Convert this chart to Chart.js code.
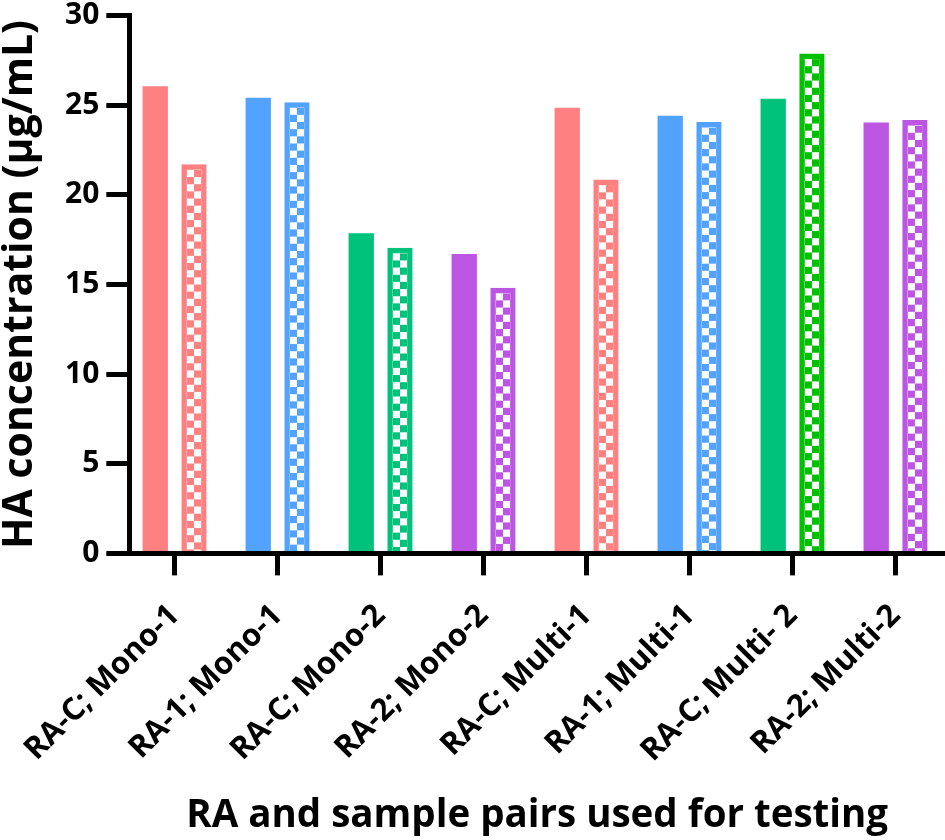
<!DOCTYPE html>
<html><head><meta charset="utf-8">
<script src="https://cdn.jsdelivr.net/npm/chart.js@4.4.0/dist/chart.umd.min.js"></script>
<style>html,body{margin:0;padding:0;background:#fff;} #wrap{width:945px;height:840px;position:relative;}</style>
</head><body><div id="wrap"><canvas id="c"></canvas></div>
<script>
const categories = ['RA-C; Mono-1','RA-1; Mono-1','RA-C; Mono-2','RA-2; Mono-2','RA-C; Multi-1','RA-1; Multi-1','RA-C; Multi- 2','RA-2; Multi-2'];
const raValues = [26.05, 25.41, 17.85, 16.70, 24.86, 24.41, 25.36, 24.04];
const sampleValues = [21.70, 25.17, 17.05, 14.82, 20.85, 24.06, 27.88, 24.17];
const yTicks = [0, 5, 10, 15, 20, 25, 30];
const solidColors = ['#FF8080','#52A2FF','#00C27A','#BB55E2','#FF8080','#52A2FF','#00C27A','#BB55E2'];
const checkerColors = ['#FF8080','#52A2FF','#00C27A','#BB55E2','#FF8080','#52A2FF','#00C000','#BB55E2'];

const FONT = "'Open Sans'";
const checkerPlugin = {
  id: 'checker',
  beforeDatasetsDraw(chart) {
    const meta = chart.getDatasetMeta(1);
    const dpr = chart.currentDevicePixelRatio || 1;
    meta.data.forEach((el, i) => {
      const p = el.getProps(['x', 'y', 'width'], true);
      const b = typeof el.options.borderWidth === 'number' ? el.options.borderWidth : 0;
      const s = (p.width - 2 * b) / 2;
      const n = Math.max(2, Math.round(2 * s * dpr));
      const tile = document.createElement('canvas');
      tile.width = tile.height = n;
      const t = tile.getContext('2d');
      t.fillStyle = checkerColors[i]; t.fillRect(0, 0, n, n);
      t.fillStyle = '#ffffff';
      t.fillRect(0, 0, n / 2, n / 2); t.fillRect(n / 2, n / 2, n / 2, n / 2);
      const pat = chart.ctx.createPattern(tile, 'repeat');
      const k = (2 * s) / n;
      pat.setTransform(new DOMMatrix([k, 0, 0, k, p.x - p.width / 2 + b, p.y + b]));
      el.options = Object.assign({}, el.options, { backgroundColor: pat });
    });
  }
};

new Chart(document.getElementById('c'), {
  type: 'bar',
  data: {
    datasets: [
      { label: 'RA', data: raValues.map((v, i) => ({ x: i, y: v })), backgroundColor: solidColors, borderWidth: 0,
        categoryPercentage: 0.752, barPercentage: 0.654 },
      { label: 'Sample', data: sampleValues.map((v, i) => ({ x: i, y: v })), backgroundColor: checkerColors,
        borderColor: checkerColors, borderWidth: 5.5, borderSkipped: 'start', categoryPercentage: 0.752, barPercentage: 0.654 }
    ]
  },
  plugins: [checkerPlugin],
  options: {
    responsive: true, maintainAspectRatio: false, animation: false,
    layout: { padding: { top: 0, right: 0, left: 0, bottom: 0 } },
    plugins: { legend: { display: false }, tooltip: { enabled: false } },
    scales: {
      x: {
        type: 'linear', min: -0.44, max: 7.48, offset: false,
        afterBuildTicks: s => { s.ticks = categories.map((c, i) => ({ value: i })); },
        afterFit: s => { s.paddingLeft = 0; s.paddingRight = 0; },
        ticks: { callback: (v, i) => categories[i], autoSkip: false, maxRotation: 45, minRotation: 45,
          color: '#000', padding: 22, font: { family: FONT, weight: 'bold', size: 31 } },
        grid: { offset: false, drawOnChartArea: false, drawTicks: true, tickLength: 22, color: '#000', lineWidth: 5 },
        border: { display: true, color: '#000', width: 5 },
        title: { display: true, text: 'RA and sample pairs used for testing', color: '#000',
          font: { family: FONT, weight: 'bold', size: 38.5, lineHeight: 1 }, padding: { top: 5, bottom: 5 } }
      },
      y: {
        min: 0, max: 30,
        afterBuildTicks: s => { s.ticks = yTicks.map(v => ({ value: v })); },
        ticks: { color: '#000', padding: 7, font: { family: FONT, weight: 'bold', size: 30, lineHeight: 0.57 } },
        grid: { drawOnChartArea: false, drawTicks: true, tickLength: 23, color: '#000', lineWidth: 5 },
        border: { display: true, color: '#000', width: 5 },
        title: { display: true, text: 'HA concentration (µg/mL)', color: '#000',
          font: { family: FONT, weight: 'bold', size: 41, lineHeight: 1 }, padding: { top: 0, bottom: 17 } }
      }
    }
  }
});
</script>
</body></html>
